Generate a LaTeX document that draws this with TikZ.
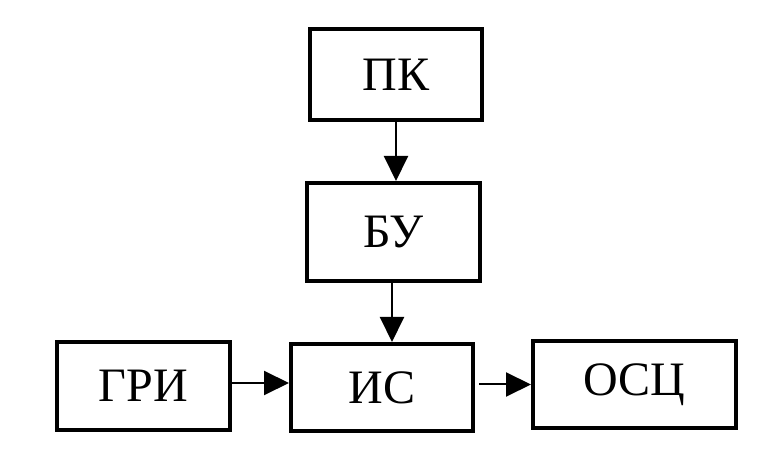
\documentclass[tikz,border=0pt]{standalone}
\usepackage{fontspec}
\setmainfont{Liberation Serif}
\usepackage{tikz}
\usetikzlibrary{calc,arrows.meta}
\definecolor{ink}{HTML}{000000}
\tikzset{
  blk/.style={draw=ink, line width=4pt, inner sep=0pt, font=\fontsize{48}{56}\selectfont, text=ink},
  arr/.style={draw=ink, line width=2pt, -{Triangle[length=25pt,width=24pt]}},
}
\begin{document}
\begin{tikzpicture}[x=1pt,y=1pt]
  \useasboundingbox (0,0) rectangle (764,450);
  \node[blk, minimum width=172pt, minimum height=91pt] (pk) at (396,375.5) {ПК};
  \node[blk, minimum width=173pt, minimum height=98pt] (bu) at (393.5,218) {БУ};
  \node[blk, minimum width=173pt, minimum height=88pt] (gri) at (143.5,64) {ГРИ};
  \node[blk, minimum width=182pt, minimum height=87pt] (is) at (382,62.5) {ИС};
  \node[blk, minimum width=203pt, minimum height=87pt] (osc) at (634.5,65.5) {ОСЦ};
  \coordinate (bu-out) at ($(bu.south)+(-1.5,0)$);
  \coordinate (gri-out) at ($(gri.east)+(0,3)$);
  \coordinate (is-out) at ($(is.east)+(0,3)$);
  \draw[arr] (pk.south) -- (pk.south |- bu.north);
  \draw[arr] (bu-out) -- (bu-out |- is.north);
  \draw[arr] (gri-out) -- (gri-out -| is.west);
  \draw[arr, shorten <=4pt] (is-out) -- (is-out -| osc.west);
\end{tikzpicture}
\end{document}
